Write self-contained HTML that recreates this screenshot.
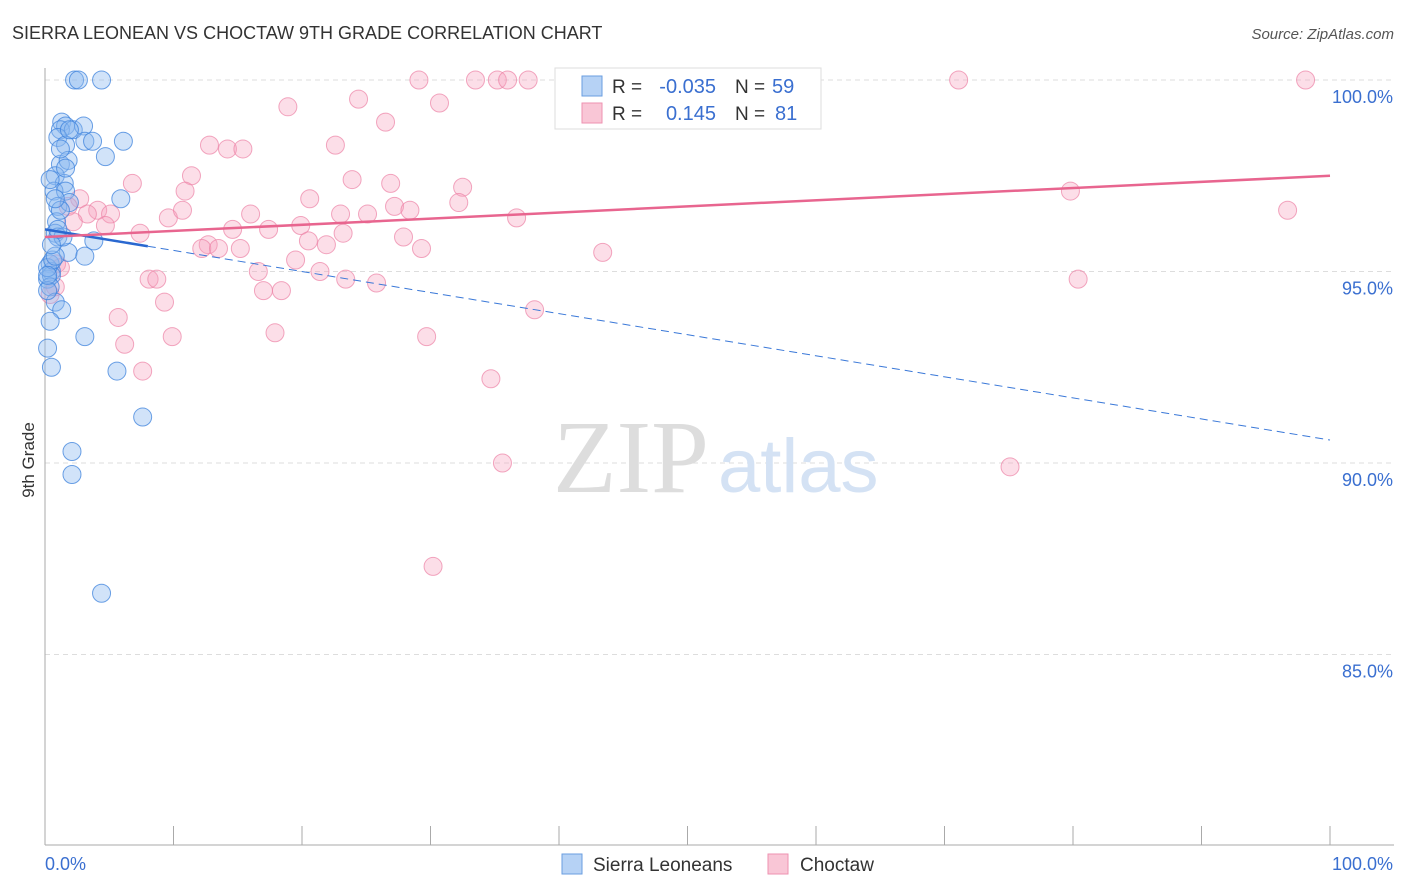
<!DOCTYPE html>
<html><head><meta charset="utf-8"><style>
body{margin:0;background:#fff;font-family:"Liberation Sans",sans-serif}
#c{position:absolute;left:0;top:0;width:1406px;height:892px}
</style></head><body>
<svg id="c" width="1406" height="892">
<text x="12" y="39" font-size="18" fill="#333">SIERRA LEONEAN VS CHOCTAW 9TH GRADE CORRELATION CHART</text>
<text x="1394" y="39" font-size="15" fill="#555" text-anchor="end" font-style="italic">Source: ZipAtlas.com</text>
<text x="34" y="460" font-size="17" fill="#333" transform="rotate(-90 34 460)" text-anchor="middle">9th Grade</text>
<g id="grid"></g>
<text x="553" y="492" font-size="104" fill="#ddd" font-family="Liberation Serif,serif">ZIP</text>
<text x="718" y="492" font-size="76" fill="#d4e2f4">atlas</text>
<g id="pts"></g>
<g id="lines"></g>
<g>
<rect x="555" y="68" width="266" height="61" fill="#fff" stroke="#ddd"/>
<rect x="582" y="76" width="20" height="20" fill="#b6d2f5" stroke="#6a9ee0"/>
<rect x="582" y="103" width="20" height="20" fill="#f9c6d6" stroke="#ee92b0"/>
<text x="612" y="93" font-size="19" fill="#333">R =</text>
<text x="716" y="93" font-size="20" fill="#3a6fd0" text-anchor="end">-0.035</text>
<text x="735" y="93" font-size="19" fill="#333">N =</text>
<text x="772" y="93" font-size="20" fill="#3a6fd0">59</text>
<text x="612" y="120" font-size="19" fill="#333">R =</text>
<text x="716" y="120" font-size="20" fill="#3a6fd0" text-anchor="end">0.145</text>
<text x="735" y="120" font-size="19" fill="#333">N =</text>
<text x="775" y="120" font-size="20" fill="#3a6fd0">81</text>
</g>
<g>
<rect x="562" y="854" width="20" height="20" fill="#b6d2f5" stroke="#6a9ee0"/>
<text x="593" y="871" font-size="19" fill="#333">Sierra Leoneans</text>
<rect x="768" y="854" width="20" height="20" fill="#f9c6d6" stroke="#ee92b0"/>
<text x="800" y="871" font-size="19" fill="#333">Choctaw</text>
</g>
<text x="45" y="870" font-size="18" fill="#3a6fd0">0.0%</text>
<text x="1393" y="870" font-size="18" fill="#3a6fd0" text-anchor="end">100.0%</text>
</svg>
<script>
const yTicks=[100,95,90,85];
const blueX=[2.3,2.6,4.4,1.3,1.6,1.2,2.2,3.0,1.0,1.6,3.1,3.7,6.1,4.7,1.2,1.8,0.8,1.5,0.7,1.6,5.9,1.0,1.9,0.9,0.8,1.0,3.8,1.8,3.1,0.4,0.5,0.2,0.5,0.4,0.8,1.3,0.4,3.1,0.2,0.5,5.6,7.6,2.1,2.1,4.4,0.2,0.6,1.2,0.2,1.2,0.4,1.9,0.8,1.4,0.8,0.2,1.0,0.5,1.6];
const blueY=[100,100,100,98.9,98.8,98.7,98.7,98.8,98.5,98.3,98.4,98.4,98.4,98.0,97.8,97.9,97.5,97.3,97.1,97.1,96.9,96.7,96.8,96.3,96.0,95.9,95.8,95.5,95.4,95.2,95.0,94.8,94.9,94.6,94.2,94.0,93.7,93.3,93.0,92.5,92.4,91.2,90.3,89.7,86.6,95.1,95.3,96.6,94.5,98.2,97.4,98.7,96.9,95.9,95.4,94.9,96.1,95.7,97.7];
const pinkX=[29.1,33.5,35.2,36.0,37.6,51.2,71.1,98.1,45.5,18.9,24.4,30.7,26.5,22.6,12.8,14.2,15.4,6.8,11.4,10.9,20.6,23.9,26.9,32.5,32.2,27.2,28.4,2.7,1.8,4.1,5.1,3.3,2.2,4.7,9.6,10.7,16.0,17.4,14.6,23.0,25.1,19.9,23.2,27.9,36.7,79.8,96.7,7.4,12.7,12.2,13.5,15.2,20.5,21.9,29.3,43.4,19.5,16.6,21.4,23.4,25.8,8.1,8.7,17.0,18.4,0.9,0.4,9.3,38.1,5.7,17.9,29.7,9.9,6.2,7.6,34.7,80.4,35.6,75.1,30.2,1.2,0.8];
const pinkY=[100,100,100,100,100,100,100,100,100,99.3,99.5,99.4,98.9,98.3,98.3,98.2,98.2,97.3,97.5,97.1,96.9,97.4,97.3,97.2,96.8,96.7,96.6,96.9,96.7,96.6,96.5,96.5,96.3,96.2,96.4,96.6,96.5,96.1,96.1,96.5,96.5,96.2,96.0,95.9,96.4,97.1,96.6,96.0,95.7,95.6,95.6,95.6,95.8,95.7,95.6,95.5,95.3,95.0,95.0,94.8,94.7,94.8,94.8,94.5,94.5,95.2,94.4,94.2,94.0,93.8,93.4,93.3,93.3,93.1,92.4,92.2,94.8,90.0,89.9,87.3,95.1,94.6];
const blueLine=[96.1,90.6], pinkLine=[95.9,97.5];
const X0=45,X1=1330,Y100=80,PX5=191.5;
const xs=v=>X0+(X1-X0)*v/100, ys=v=>Y100+(100-v)/5*PX5;
const NS='http://www.w3.org/2000/svg';
const g=document.getElementById('grid'),p=document.getElementById('pts'),l=document.getElementById('lines');
function mk(tag,at,par){const e=document.createElementNS(NS,tag);for(const k in at)e.setAttribute(k,at[k]);par.appendChild(e);return e;}
yTicks.forEach(t=>{
 const ln=mk('line',{x1:45,x2:1394,y1:ys(t),y2:ys(t),stroke:'#ddd','stroke-dasharray':'5,4'},g);
 
 
 const tx=mk('text',{x:1393,y:ys(t)+23,'font-size':18,fill:'#3a6fd0','text-anchor':'end'},g);
 tx.textContent=t.toFixed(1)+'%';
 
 
});
mk('line',{x1:45,x2:45,y1:68,y2:845,stroke:'#aaa'},g);
mk('line',{x1:45,x2:1394,y1:845,y2:845,stroke:'#aaa'},g);
for(let i=0;i<=10;i++){const x=xs(i*10);mk('line',{x1:x,x2:x,y1:826,y2:845,stroke:'#aaa'},g);}
pinkX.forEach((x,i)=>{const c=mk('circle',{cx:xs(x),cy:ys(pinkY[i]),r:9,fill:'rgba(245,160,190,0.35)',stroke:'rgba(236,130,165,0.7)','stroke-width':1},p);
 
 });
blueX.forEach((x,i)=>{const c=mk('circle',{cx:xs(x),cy:ys(blueY[i]),r:9,fill:'rgba(140,185,240,0.4)',stroke:'rgba(60,130,220,0.75)','stroke-width':1},p);
 
 });
const bl=v=>blueLine[0]+(blueLine[1]-blueLine[0])*v/100;
mk('line',{x1:xs(8),y1:ys(bl(8)),x2:xs(100),y2:ys(bl(100)),stroke:'#3a78d8','stroke-width':1,'stroke-dasharray':'8,5'},l);
const b1=mk('line',{x1:xs(0),y1:ys(bl(0)),x2:xs(8),y2:ys(bl(8)),stroke:'#2a68d0','stroke-width':2.5},l);


const pl=mk('line',{x1:xs(0),y1:ys(pinkLine[0]),x2:xs(100),y2:ys(pinkLine[1]),stroke:'#e8658f','stroke-width':2.5},l);


</script>
</body></html>
